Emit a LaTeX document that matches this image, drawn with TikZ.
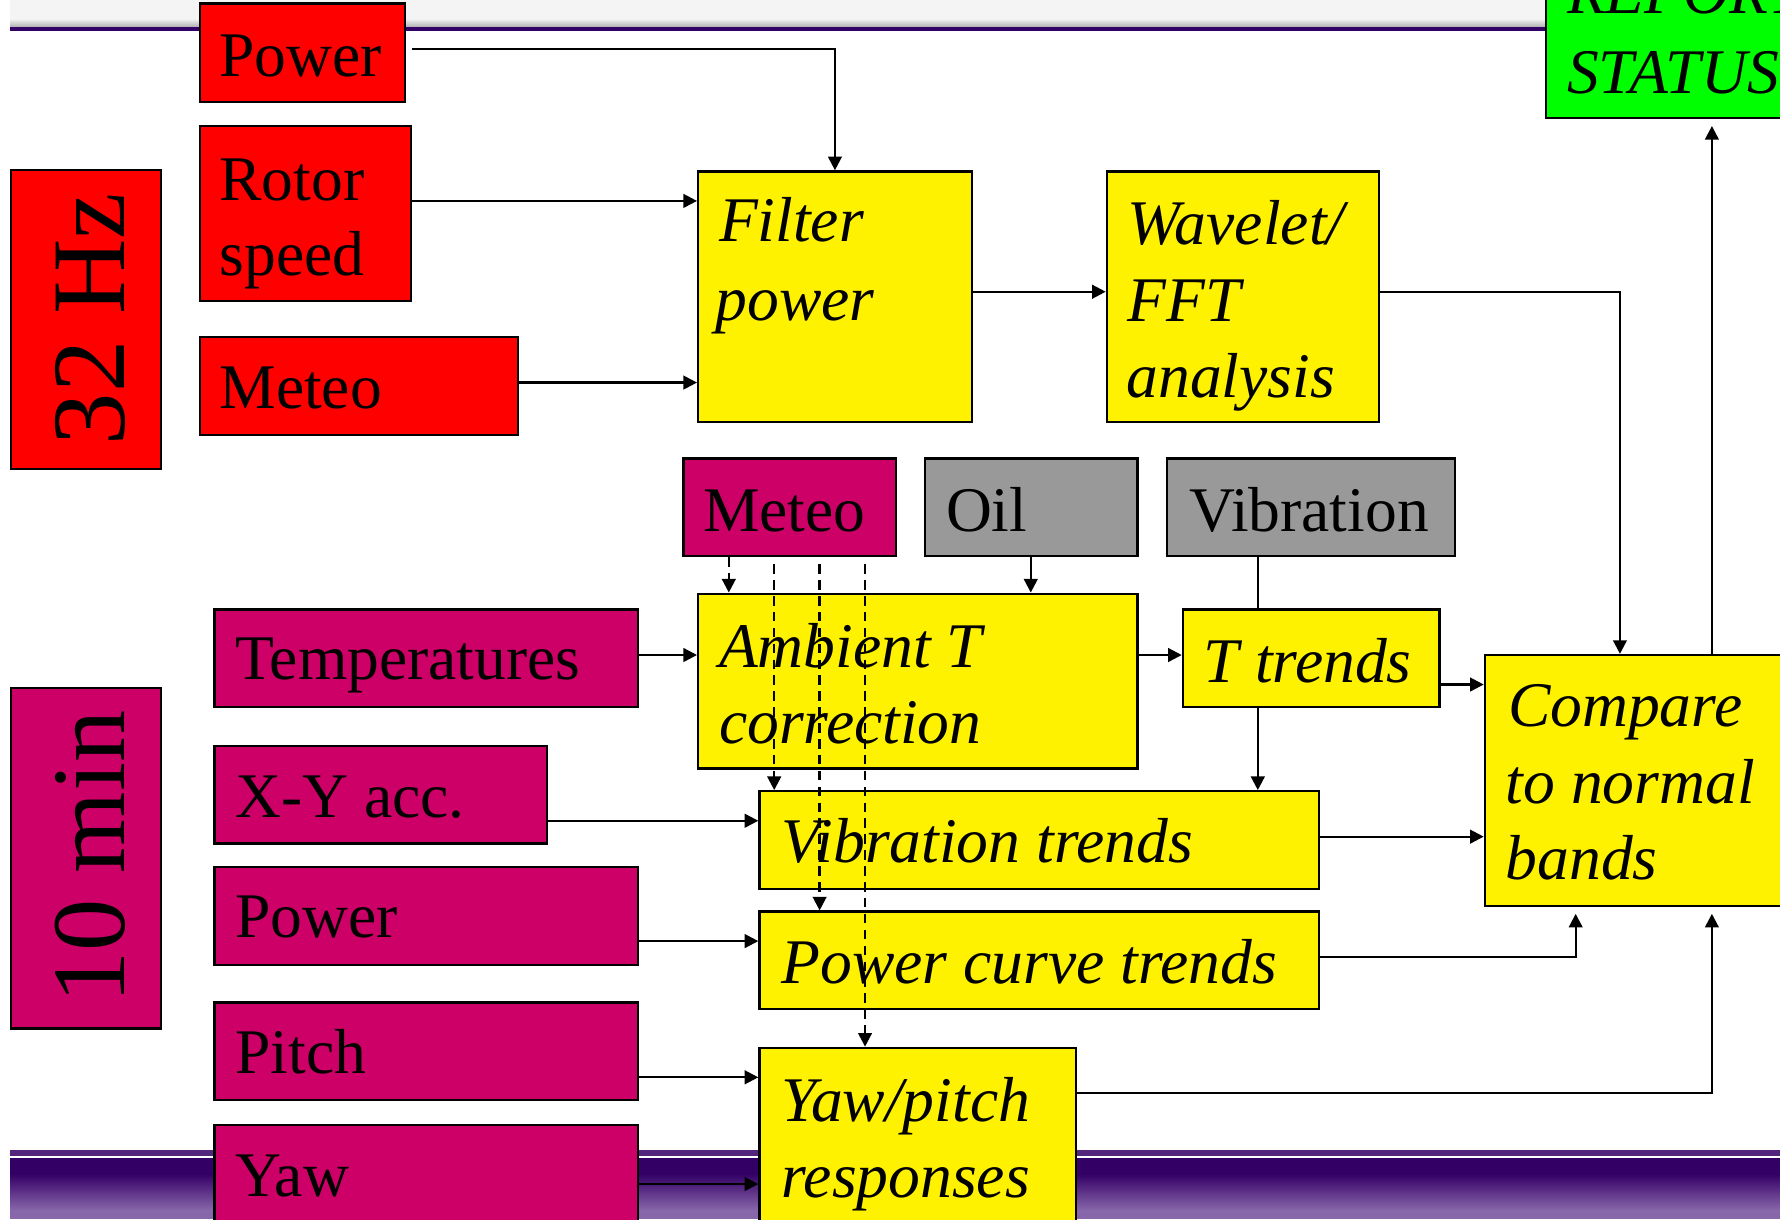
\documentclass[tikz,border=0pt]{standalone}
\usepackage{fontspec}
\setmainfont{Liberation Serif}
\usetikzlibrary{fit,arrows.meta}
\definecolor{crim}{RGB}{204,0,102}
\definecolor{gry}{RGB}{153,153,153}
\definecolor{grn}{RGB}{0,255,0}
\definecolor{dpurp}{RGB}{51,0,102}
\definecolor{lpurp}{RGB}{136,102,170}
\begin{document}
\begin{tikzpicture}[x=0.5pt,y=-0.5pt,
  box/.style={draw=black,line width=1pt,inner sep=0pt},
  redbox/.style={box,fill=red},
  crimbox/.style={box,fill=crim},
  graybox/.style={box,fill=gry},
  ylwbox/.style={box,fill=yellow},
  grnbox/.style={box,fill=grn},
  txt/.style={anchor=base west,inner sep=0pt,font=\fontsize{28}{33}\selectfont},
  itxt/.style={anchor=base west,inner sep=0pt,font=\fontsize{28}{33}\selectfont\itshape},
  bigtxt/.style={anchor=base,inner sep=0pt,rotate=90,font=\fontsize{46}{50}\selectfont},
  arr/.style={line width=1pt,-{Triangle[length=6pt,width=6pt]}},
  plain/.style={line width=1pt},
  dsh/.style={arr,dash pattern=on 4.2pt off 2.8pt}]
\path[use as bounding box] (0,0) rectangle (1568,1074);
\clip (0,0) rectangle (1568,1074);
% header
\fill[gray!9] (9,0) rectangle (1568,17);
\shade[top color=gray!12,bottom color=gray!60] (9,17) rectangle (1568,23.5);
\fill[dpurp] (9,23.5) rectangle (1568,27);
% bottom band
\fill[dpurp!85] (9,1013) rectangle (1568,1018);
\fill[dpurp] (9,1020) rectangle (1568,1034);
\shade[top color=dpurp,bottom color=lpurp] (9,1034) rectangle (1568,1066);
\fill[lpurp] (9,1066) rectangle (1568,1074);
% 32 Hz boxes
\node[redbox,fit={(10,150) (142,413)}] (hz) {};
\node[bigtxt] (hzt) at (110,281) {32 Hz};
\node[redbox,fit={(176,3) (357,90)}] (pw) {};
\node[txt] (pwt) at (193,67) {Power};
\node[redbox,fit={(176,111) (362,265)}] (rot) {};
\node[txt] (rott) at (193,177) {Rotor};
\node[txt] (rott2) at (193,243) {speed};
\node[redbox,fit={(176,297) (456,383)}] (metr) {};
\node[txt] (metrt) at (193,360) {Meteo};
\node[ylwbox,fit={(615,151) (856,372)}] (flt) {};
\node[itxt] (fltt) at (633,213) {Filter};
\node[itxt] (fltt2) at (630,282) {power};
\node[ylwbox,fit={(975,151) (1215,372)}] (wav) {};
\node[itxt] (wavt) at (993,215) {Wavelet/};
\node[itxt] (wavt2) at (993,283) {FFT};
\node[itxt] (wavt3) at (992,350) {analysis};
\node[grnbox,fit={(1362,-20) (1580,104)}] (rep) {};
\node[itxt] (rept) at (1380,12) {REPORT};
\node[itxt] (rept2) at (1380,82) {STATUS};
% 10 min boxes
\node[crimbox,fit={(10,606) (142,906)}] (mn) {};
\node[bigtxt] (mnt) at (110,755) {10 min};
\node[crimbox,fit={(602,404) (789,490)}] (metc) {};
\node[txt] (metct) at (619,468) {Meteo};
\node[graybox,fit={(815,404) (1002,490)}] (oil) {};
\node[txt] (oilt) at (833,468) {Oil};
\node[graybox,fit={(1028,404) (1282,490)}] (vib) {};
\node[txt] (vibt) at (1047,468) {Vibration};
\node[crimbox,fit={(189,537) (562,623)}] (tmp) {};
\node[txt] (tmpt) at (207,599) {Temperatures};
\node[ylwbox,fit={(615,523) (1002,677)}] (amb) {};
\node[itxt] (ambt) at (633,588) {Ambient T};
\node[itxt] (ambt2) at (633,655) {correction};
\node[ylwbox,fit={(1042,537) (1268,623)}] (ttr) {};
\node[itxt] (ttrt) at (1060,601) {T trends};
\node[ylwbox,fit={(1308,577) (1580,798)}] (cmp) {};
\node[itxt] (cmpt) at (1328,640) {Compare};
\node[itxt] (cmpt2) at (1326,708) {to normal};
\node[itxt] (cmpt3) at (1326,775) {bands};
\node[crimbox,fit={(189,657) (482,743)}] (xy) {};
\node[txt] (xyt) at (207,720) {X-Y acc.};
\node[ylwbox,fit={(669,697) (1162,783)}] (vtr) {};
\node[itxt] (vtrt) at (688,760) {Vibration trends};
\node[crimbox,fit={(189,764) (562,850)}] (pwc) {};
\node[txt] (pwct) at (207,826) {Power};
\node[ylwbox,fit={(669,803) (1162,889)}] (pct) {};
\node[itxt] (pctt) at (688,866) {Power curve trends};
\node[crimbox,fit={(189,883) (562,969)}] (pit) {};
\node[txt] (pitt) at (207,946) {Pitch};
\node[ylwbox,fit={(669,923) (948,1090)}] (yp) {};
\node[itxt] (ypt) at (688,988) {Yaw/pitch};
\node[itxt] (ypt2) at (688,1055) {responses};
\node[crimbox,fit={(189,991) (562,1090)}] (yaw) {};
\node[txt] (yawt) at (207,1054) {Yaw};
% connectors
\draw[arr,shorten <=2.5pt] (pw.east |- 0,43) -| (flt.north);
\draw[arr] (rot.east |- 0,177) -- (flt.west |- 0,177);
\draw[arr] (metr.east |- 0,337) -- (flt.west |- 0,337);
\draw[arr] (flt.east |- 0,257) -- (wav.west |- 0,257);
\draw[arr] (wav.east |- 0,257) -| (cmp.north -| 1427,0);
\draw[arr,shorten >=3pt] (cmp.north -| 1508,0) -- (rep.south -| 1508,0);
\draw[arr] (oil.south -| 908,0) -- (amb.north -| 908,0);
\draw[plain] (vib.south -| 1108,0) -- (ttr.north -| 1108,0);
\draw[arr] (ttr.south -| 1108,0) -- (vtr.north -| 1108,0);
\draw[arr] (tmp.east |- 0,577) -- (amb.west |- 0,577);
\draw[arr] (amb.east |- 0,577) -- (ttr.west |- 0,577);
\draw[arr] (ttr.east |- 0,603) -- (cmp.west |- 0,603);
\draw[arr] (xy.east |- 0,723) -- (vtr.west |- 0,723);
\draw[arr] (vtr.east |- 0,737) -- (cmp.west |- 0,737);
\draw[arr] (pwc.east |- 0,829) -- (pct.west |- 0,829);
\draw[arr,shorten >=3pt] (pct.east |- 0,843) -| (cmp.south -| 1388,0);
\draw[arr] (pit.east |- 0,949) -- (yp.west |- 0,949);
\draw[arr,shorten >=3pt] (yp.east |- 0,963) -| (cmp.south -| 1508,0);
\draw[arr] (yaw.east |- 0,1043) -- (yp.west |- 0,1043);
% dashed meteo connectors
\draw[dsh] (metc.south -| 642,0) -- (amb.north -| 642,0);
\draw[dsh,shorten <=3pt] (metc.south -| 682,0) -- (vtr.north -| 682,0);
\draw[dsh,shorten <=3pt] (metc.south -| 722,0) -- (pct.north -| 722,0);
\draw[dsh,shorten <=3pt] (metc.south -| 762,0) -- (yp.north -| 762,0);
\end{tikzpicture}
\end{document}
